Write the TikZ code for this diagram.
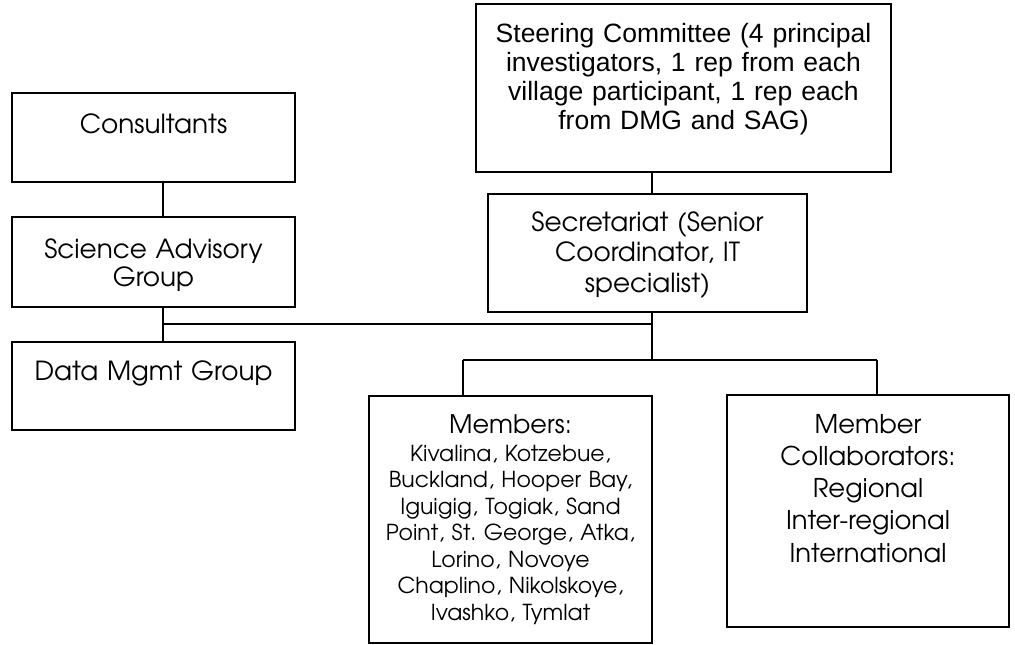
\documentclass[tikz,border=0pt]{standalone}
\usepackage{fontspec}
\newfontfamily\goth{TeX Gyre Adventor}
\newfontfamily\ari{Liberation Sans}
\tikzset{
  bx/.style={draw=black, line width=1.6pt, rectangle, inner sep=0pt, fill=white},
  ln/.style={draw=black, line width=1.6pt},
  gt/.style={anchor=base, inner sep=0pt, align=center, text width=275pt,
    font=\goth\fontsize{26.3}{28}\selectfont},
}
\begin{document}
\begin{tikzpicture}[x=1pt,y=-1pt]
\useasboundingbox (0,0) rectangle (1015,645);
% boxes
\node[bx, minimum width=283pt, minimum height=89pt] (cons) at (153.5,137.5) {};
\node[bx, minimum width=283pt, minimum height=90pt] (sag) at (153.5,262) {};
\node[bx, minimum width=283pt, minimum height=88pt] (dmg) at (153.5,386) {};
\node[bx, minimum width=415pt, minimum height=168pt] (steer) at (683.5,88) {};
\node[bx, minimum width=319pt, minimum height=118pt] (sec) at (647.5,253) {};
\node[bx, minimum width=283pt, minimum height=247pt] (mem) at (510.5,519.5) {};
\node[bx, minimum width=282pt, minimum height=232pt] (collab) at (868,511) {};
% junction coordinates
\coordinate (jl) at (163,324);
\coordinate (jm) at (652,324);
\coordinate (jb) at (652,360);
\coordinate (jbl) at (463,360);
\coordinate (jbr) at (877,360);
% connectors
\draw[ln] (cons.south -| jl) -- (sag.north -| jl);
\draw[ln] (sag.south -| jl) -- (dmg.north -| jl);
\draw[ln] (jl) -- (jm);
\draw[ln] (steer.south -| jm) -- (sec.north -| jm);
\draw[ln] (sec.south -| jm) -- (jb);
\draw[ln] (jbl) -- (jbr);
\draw[ln] (jbl) -- (mem.north -| jbl);
\draw[ln] (jbr) -- (collab.north -| jbr);
% texts
\node[gt] (tcons) at (153.5,133) {Consultants};
\node[gt] (tsag) at (153.5,258) {Science Advisory\\Group};
\node[gt] (tdmg) at (153.5,380) {Data Mgmt Group};
\node[gt, text width=400pt, font=\ari\fontsize{26.5}{29}\selectfont] (tsteer) at (683.5,42)
  {Steering Committee (4 principal\\investigators, 1 rep from each\\village participant, 1 rep each\\from DMG and SAG)};
\node[gt, text width=310pt, font=\goth\fontsize{26.3}{30.5}\selectfont] (tsec) at (647.5,231)
  {Secretariat (Senior\\Coordinator, IT\\specialist)};
\node[gt, font=\goth\fontsize{25.5}{28}\selectfont] (tmemh) at (510.5,433) {Members:};
\node[gt, font=\goth\fontsize{22}{26.5}\selectfont] (tmem) at (510.5,461)
  {Kivalina, Kotzebue,\\Buckland, Hooper Bay,\\Iguigig, Togiak, Sand\\Point, St.\ George, Atka,\\Lorino, Novoye\\Chaplino, Nikolskoye,\\Ivashko, Tymlat};
\node[gt, font=\goth\fontsize{25.8}{32.3}\selectfont] (tcollab) at (868,433)
  {Member\\Collaborators:\\Regional\\Inter-regional\\International};
\end{tikzpicture}
\end{document}
